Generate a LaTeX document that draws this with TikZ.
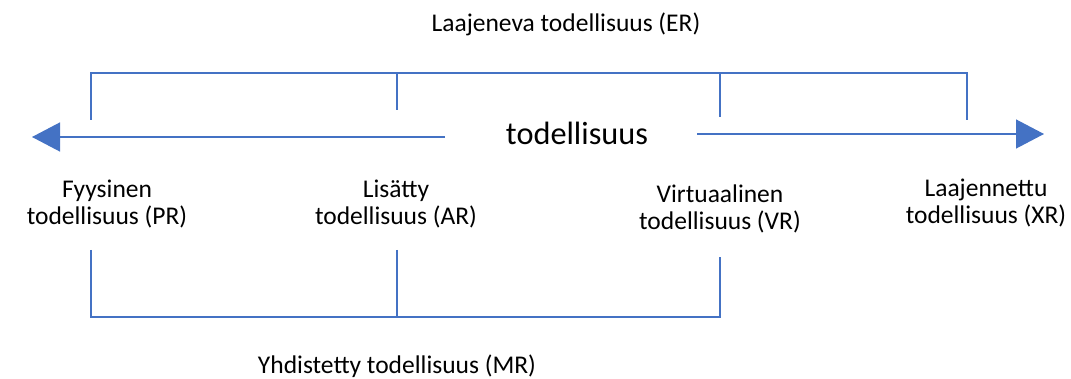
\documentclass[tikz,border=0pt]{standalone}
\usepackage{fontspec}
\setmainfont{Carlito}
\usetikzlibrary{arrows.meta}
\definecolor{lineblue}{HTML}{4472C4}
\begin{document}
\begin{tikzpicture}[x=1pt,y=-1pt,
  conn/.style={draw=lineblue,line width=1.3pt},
  arr/.style={conn,-{Triangle[length=28pt,width=29pt]}},
  lbl/.style={font=\fontsize{25.5}{27}\selectfont,align=center,inner sep=0pt,text=black},
  big/.style={font=\fontsize{32.3}{36}\selectfont,inner sep=0pt,text=black}]
\useasboundingbox (0,0) rectangle (1071,379);
% texts
\node[lbl] (er) at (566,24) {Laajeneva todellisuus (ER)};
\node[big] (real) at (577,133) {todellisuus};
\node[lbl] (pr) at (107,204) {Fyysinen\\todellisuus (PR)};
\node[lbl] (ar) at (396,204) {Lisätty\\todellisuus (AR)};
\node[lbl] (vr) at (720,209) {Virtuaalinen\\todellisuus (VR)};
\node[lbl] (xr) at (986,203) {Laajennettu\\todellisuus (XR)};
\node[lbl] (mr) at (397,366) {Yhdistetty todellisuus (MR)};
% axis arrows
\coordinate (lstart) at (445,137);
\coordinate (ltip) at (32,137);
\coordinate (rstart) at (697,134);
\coordinate (rtip) at (1044,134);
\draw[arr] (lstart) -- (ltip);
\draw[arr] (rstart) -- (rtip);
% top bracket
\coordinate (t1) at (91,73);
\coordinate (t2) at (397,73);
\coordinate (t3) at (720,73);
\coordinate (t4) at (967,73);
\coordinate (t1b) at (91,120);
\coordinate (t2b) at (397,110);
\coordinate (t3b) at (720,117);
\coordinate (t4b) at (967,120);
\draw[conn] (t1b) -- (t1) -- (t4) -- (t4b);
\draw[conn] (t2) -- (t2b);
\draw[conn] (t3) -- (t3b);
% bottom bracket
\coordinate (b1) at (91,317);
\coordinate (b2) at (397,317);
\coordinate (b3) at (720,317);
\coordinate (b1t) at (91,250);
\coordinate (b2t) at (397,250);
\coordinate (b3t) at (720,257);
\draw[conn] (b1t) -- (b1) -- (b3) -- (b3t);
\draw[conn] (b2t) -- (b2);
\end{tikzpicture}
\end{document}
